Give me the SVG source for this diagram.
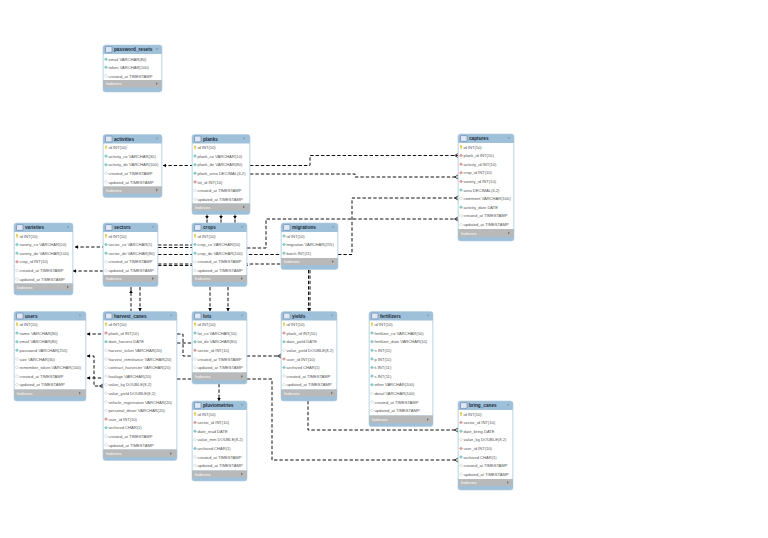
<svg xmlns="http://www.w3.org/2000/svg" xmlns:xlink="http://www.w3.org/1999/xlink" width="768" height="538" viewBox="0 0 768 538">
<style>
text{font-family:"Liberation Sans",Arial,sans-serif;font-size:4.1px;fill:#555}
.t{font-size:4.7px;font-weight:bold;fill:#1d2a38}
.ix{font-size:4.2px;font-weight:bold;fill:#eee}
.o{fill:#9fc0d9;stroke:#b4cde0;stroke-width:.6}
.b{fill:#fff}
.g{fill:#b9b9b9}
.c{fill:none;stroke:#111;stroke-width:1;stroke-dasharray:3.4 2}
.h{fill:#000}
</style>
<defs>
<g id="k"><circle cx="0" cy="-.8" r="1.1" fill="#e8c840"/><rect x="-.4" y="-.3" width=".9" height="2.2" fill="#d9b520"/></g>
<path id="d" d="M-1.7 0L0-1.5L1.7 0L0 1.5Z" fill="#7fd0cf" stroke="#5aa9a8" stroke-width=".3"/>
<path id="w" d="M-1.7 0L0-1.5L1.7 0L0 1.5Z" fill="#fff" stroke="#9bb8c4" stroke-width=".4"/>
<path id="r" d="M-1.7 0L0-1.5L1.7 0L0 1.5Z" fill="#e39aa0" stroke="#b96f77" stroke-width=".3"/>
<g id="i"><rect x="2.500" y="1.600" width="6.500" height="5.800" rx=".6" fill="#dfe7f3" stroke="#5a78b0" stroke-width=".6"/></g>
<path id="a" d="M-1.200-1.200L1.200-1.200L0 .8Z" fill="#7d98ae"/>
<path id="p" d="M-1-1.400L1 0L-1 1.400Z" fill="#777"/>
</defs>

<g id="connectors">
<path class="c" d="M163 165.500H192"/>
<path class="c" d="M250 165.500H310V155.500H458"/>
<path class="c" d="M250 174H355V177H458"/>
<path class="c" d="M207 214V223"/>
<path class="c" d="M221 214V223"/>
<path class="c" d="M235 214V223"/>
<path class="c" d="M247 248H266V219H458"/>
<path class="c" d="M238 254.500H281"/>
<path class="c" d="M338 254.500H352V198H458"/>
<path class="c" d="M158 245H192"/>
<path class="c" d="M158 247.500H192"/>
<path class="c" d="M158 254.500H192"/>
<path class="c" d="M158 264H281"/>
<path class="c" d="M158 265.500H250"/>
<path class="c" d="M75 247H103"/>
<path class="c" d="M73 271H103"/>
<path class="c" d="M131 287V311"/>
<path class="c" d="M140 287V311"/>
<path class="c" d="M210 287V311"/>
<path class="c" d="M228 287V311"/>
<path class="c" d="M308.500 270V311"/>
<path class="c" d="M310 270V311"/>
<path class="c" d="M87 334H103"/>
<path class="c" d="M87 356H94V386H103"/>
<path class="c" d="M87 378H103"/>
<path class="c" d="M177 334H183V356H281"/>
<path class="c" d="M177 343H192"/>
<path class="c" d="M177 379H192"/>
<path class="c" d="M247 379H272V460H458"/>
<path class="c" d="M308 401V430H458"/>
<path class="c" d="M219 384V401"/>
<g class="h">
<path d="M163 165.500l3-1.800v3.600z"/>
<path d="M75 247l3-1.800v3.600z"/>
<path d="M73 271l3-1.800v3.600z"/>
<path d="M87 334l3-1.800v3.600z"/>
<path d="M87 356l3-1.800v3.600z"/>
<path d="M87 378l3-1.800v3.600z"/>
<path d="M238 254.500l3-1.800v3.600z"/>
<path d="M207 219l-1.800-3h3.600z"/>
<path d="M221 219l-1.800-3h3.600z"/>
<path d="M235 219l-1.800-3h3.600z"/>
<path d="M131 290l-1.800 3h3.600z"/>
<path d="M140 311l-1.800-3h3.600z"/>
<path d="M210 311l-1.800-3h3.600z"/>
<path d="M228 311l-1.800-3h3.600z"/>
<path d="M219 401l-1.800-3h3.600z"/>
<path d="M309 311l-1.800-3h3.600z"/>
</g>
<path d="M458 153.500l-3.500 2 3.500 2M458 175l-3.500 2 3.500 2M458 196l-3.500 2 3.500 2M458 217l-3.500 2 3.500 2M458 428l-3.500 2 3.500 2M458 458l-3.500 2 3.500 2M281 354l-3.500 2 3.500 2M103 384l-3.500 2 3.500 2" fill="none" stroke="#111" stroke-width=".8"/>
</g>

<g id="password_resets" transform="translate(103,45)"><rect class="o" width="59" height="47" rx="2.500"/><rect class="b" x=".5" y="9" width="58" height="26"/><rect class="g" x=".5" y="35" width="58" height="7.300"/><use href="#i"/><text class="t" x="11" y="6.300">password_resets</text><use href="#a" x="54" y="4.500"/><use href="#p" x="54" y="38.700"/><text class="ix" x="3" y="40.200">Indexes</text>
<use href="#d" x="3" y="14.300"/><text x="5.500" y="15.900">email VARCHAR(80)</text>
<use href="#d" x="3" y="22.300"/><text x="5.500" y="23.900">token VARCHAR(100)</text>
<use href="#w" x="3" y="31"/><text x="5.500" y="32.600">created_at TIMESTAMP</text></g>

<g id="activities" transform="translate(103,134.500)"><rect class="o" width="59" height="63" rx="2.500"/><rect class="b" x=".5" y="9" width="58" height="43"/><rect class="g" x=".5" y="52" width="58" height="7"/><use href="#i"/><text class="t" x="11" y="6.300">activities</text><use href="#a" x="54" y="4.500"/><use href="#p" x="54" y="55.500"/><text class="ix" x="3" y="57">Indexes</text>
<use href="#k" x="3" y="13"/><text x="5.500" y="14.600">id INT(10)</text>
<use href="#d" x="3" y="21.600"/><text x="5.500" y="23.200">activity_co VARCHAR(30)</text>
<use href="#d" x="3" y="30.200"/><text x="5.500" y="31.800">activity_de VARCHAR(100)</text>
<use href="#w" x="3" y="38.800"/><text x="5.500" y="40.400">created_at TIMESTAMP</text>
<use href="#w" x="3" y="47.400"/><text x="5.500" y="49">updated_at TIMESTAMP</text></g>

<g id="planks" transform="translate(192,134.500)"><rect class="o" width="58" height="80" rx="2.500"/><rect class="b" x=".5" y="9" width="57" height="60"/><rect class="g" x=".5" y="69" width="57" height="7"/><use href="#i"/><text class="t" x="11" y="6.300">planks</text><use href="#a" x="52" y="4.500"/><use href="#p" x="52" y="72.500"/><text class="ix" x="3" y="74">Indexes</text>
<use href="#k" x="3" y="13"/><text x="5.500" y="14.600">id INT(10)</text>
<use href="#d" x="3" y="21.600"/><text x="5.500" y="23.200">plank_co VARCHAR(10)</text>
<use href="#d" x="3" y="30.200"/><text x="5.500" y="31.800">plank_de VARCHAR(80)</text>
<use href="#d" x="3" y="38.800"/><text x="5.500" y="40.400">plank_area DECIMAL(6,2)</text>
<use href="#r" x="3" y="47.400"/><text x="5.500" y="49">lot_id INT(10)</text>
<use href="#w" x="3" y="56"/><text x="5.500" y="57.600">created_at TIMESTAMP</text>
<use href="#w" x="3" y="64.600"/><text x="5.500" y="66.200">updated_at TIMESTAMP</text></g>

<g id="captures" transform="translate(458,134)"><rect class="o" width="56" height="107" rx="2.500"/><rect class="b" x=".5" y="9" width="55" height="86"/><rect class="g" x=".5" y="95" width="55" height="8"/><use href="#i"/><text class="t" x="11" y="6.300">captures</text><use href="#a" x="51" y="4.500"/><use href="#p" x="51" y="99"/><text class="ix" x="3" y="100.500">Indexes</text>
<use href="#k" x="3" y="13"/><text x="5.500" y="14.600">id INT(10)</text>
<use href="#r" x="3" y="21.600"/><text x="5.500" y="23.200">plank_id INT(10)</text>
<use href="#r" x="3" y="30.200"/><text x="5.500" y="31.800">activity_id INT(10)</text>
<use href="#r" x="3" y="38.800"/><text x="5.500" y="40.400">crop_id INT(10)</text>
<use href="#r" x="3" y="47.400"/><text x="5.500" y="49">variety_id INT(10)</text>
<use href="#d" x="3" y="56"/><text x="5.500" y="57.600">area DECIMAL(6,2)</text>
<use href="#w" x="3" y="64.600"/><text x="5.500" y="66.200">comment VARCHAR(100)</text>
<use href="#d" x="3" y="73.200"/><text x="5.500" y="74.800">activity_date DATE</text>
<use href="#w" x="3" y="81.800"/><text x="5.500" y="83.400">created_at TIMESTAMP</text>
<use href="#w" x="3" y="90.400"/><text x="5.500" y="92">updated_at TIMESTAMP</text></g>

<g id="varieties" transform="translate(14,223)"><rect class="o" width="59" height="72" rx="2.500"/><rect class="b" x=".5" y="9" width="58" height="51.500"/><rect class="g" x=".5" y="60.500" width="58" height="7"/><use href="#i"/><text class="t" x="11" y="6.300">varieties</text><use href="#a" x="54" y="4.500"/><use href="#p" x="54" y="64"/><text class="ix" x="3" y="65.500">Indexes</text>
<use href="#k" x="3" y="13"/><text x="5.500" y="14.600">id INT(10)</text>
<use href="#d" x="3" y="21.600"/><text x="5.500" y="23.200">variety_co VARCHAR(50)</text>
<use href="#d" x="3" y="30.200"/><text x="5.500" y="31.800">variety_de VARCHAR(100)</text>
<use href="#r" x="3" y="38.800"/><text x="5.500" y="40.400">crop_id INT(10)</text>
<use href="#w" x="3" y="47.400"/><text x="5.500" y="49">created_at TIMESTAMP</text>
<use href="#w" x="3" y="56"/><text x="5.500" y="57.600">updated_at TIMESTAMP</text></g>

<g id="sectors" transform="translate(103,223)"><rect class="o" width="55" height="63.500" rx="2.500"/><rect class="b" x=".5" y="9" width="54" height="43"/><rect class="g" x=".5" y="52" width="54" height="7"/><use href="#i"/><text class="t" x="11" y="6.300">sectors</text><use href="#a" x="50" y="4.500"/><use href="#p" x="50" y="55.500"/><text class="ix" x="3" y="57">Indexes</text>
<use href="#k" x="3" y="13"/><text x="5.500" y="14.600">id INT(10)</text>
<use href="#d" x="3" y="21.600"/><text x="5.500" y="23.200">sector_co VARCHAR(5)</text>
<use href="#d" x="3" y="30.200"/><text x="5.500" y="31.800">sector_de VARCHAR(80)</text>
<use href="#w" x="3" y="38.800"/><text x="5.500" y="40.400">created_at TIMESTAMP</text>
<use href="#w" x="3" y="47.400"/><text x="5.500" y="49">updated_at TIMESTAMP</text></g>

<g id="crops" transform="translate(192,223)"><rect class="o" width="55" height="63.500" rx="2.500"/><rect class="b" x=".5" y="9" width="54" height="43"/><rect class="g" x=".5" y="52" width="54" height="7"/><use href="#i"/><text class="t" x="11" y="6.300">crops</text><use href="#a" x="50" y="4.500"/><use href="#p" x="50" y="55.500"/><text class="ix" x="3" y="57">Indexes</text>
<use href="#k" x="3" y="13"/><text x="5.500" y="14.600">id INT(10)</text>
<use href="#d" x="3" y="21.600"/><text x="5.500" y="23.200">crop_co VARCHAR(50)</text>
<use href="#d" x="3" y="30.200"/><text x="5.500" y="31.800">crop_de VARCHAR(100)</text>
<use href="#w" x="3" y="38.800"/><text x="5.500" y="40.400">created_at TIMESTAMP</text>
<use href="#w" x="3" y="47.400"/><text x="5.500" y="49">updated_at TIMESTAMP</text></g>

<g id="migrations" transform="translate(281,223)"><rect class="o" width="57" height="46.500" rx="2.500"/><rect class="b" x=".5" y="9" width="56" height="26"/><rect class="g" x=".5" y="35" width="56" height="7"/><use href="#i"/><text class="t" x="11" y="6.300">migrations</text><use href="#a" x="52" y="4.500"/><use href="#p" x="52" y="38.500"/><text class="ix" x="3" y="40">Indexes</text>
<use href="#d" x="3" y="13"/><text x="5.500" y="14.600">id INT(10)</text>
<use href="#d" x="3" y="21.600"/><text x="5.500" y="23.200">migration VARCHAR(255)</text>
<use href="#d" x="3" y="30.200"/><text x="5.500" y="31.800">batch INT(11)</text></g>

<g id="users" transform="translate(14,311.500)"><rect class="o" width="72" height="89.500" rx="2.500"/><rect class="b" x=".5" y="9" width="71" height="69"/><rect class="g" x=".5" y="78" width="71" height="7"/><use href="#i"/><text class="t" x="11" y="6.300">users</text><use href="#a" x="66" y="4.500"/><use href="#p" x="66" y="81.500"/><text class="ix" x="3" y="83">Indexes</text>
<use href="#k" x="3" y="13"/><text x="5.500" y="14.600">id INT(10)</text>
<use href="#d" x="3" y="21.600"/><text x="5.500" y="23.200">name VARCHAR(80)</text>
<use href="#d" x="3" y="30.200"/><text x="5.500" y="31.800">email VARCHAR(80)</text>
<use href="#d" x="3" y="38.800"/><text x="5.500" y="40.400">password VARCHAR(255)</text>
<use href="#w" x="3" y="47.400"/><text x="5.500" y="49">size VARCHAR(30)</text>
<use href="#w" x="3" y="56"/><text x="5.500" y="57.600">remember_token VARCHAR(100)</text>
<use href="#w" x="3" y="64.600"/><text x="5.500" y="66.200">created_at TIMESTAMP</text>
<use href="#w" x="3" y="73.200"/><text x="5.500" y="74.800">updated_at TIMESTAMP</text></g>

<g id="harvest_canes" transform="translate(103,311.500)"><rect class="o" width="74" height="149" rx="2.500"/><rect class="b" x=".5" y="9" width="73" height="129"/><rect class="g" x=".5" y="138" width="73" height="7.500"/><use href="#i"/><text class="t" x="11" y="6.300">harvest_canes</text><use href="#a" x="68" y="4.500"/><use href="#p" x="68" y="142"/><text class="ix" x="3" y="143.500">Indexes</text>
<use href="#k" x="3" y="13"/><text x="5.500" y="14.600">id INT(10)</text>
<use href="#r" x="3" y="21.600"/><text x="5.500" y="23.200">plank_id INT(10)</text>
<use href="#d" x="3" y="30.200"/><text x="5.500" y="31.800">date_harvest DATE</text>
<use href="#w" x="3" y="38.800"/><text x="5.500" y="40.400">harvest_ticket VARCHAR(20)</text>
<use href="#w" x="3" y="47.400"/><text x="5.500" y="49">harvest_remittance VARCHAR(20)</text>
<use href="#w" x="3" y="56"/><text x="5.500" y="57.600">contract_harvester VARCHAR(20)</text>
<use href="#w" x="3" y="64.600"/><text x="5.500" y="66.200">haulage VARCHAR(20)</text>
<use href="#w" x="3" y="73.200"/><text x="5.500" y="74.800">value_kg DOUBLE(8,2)</text>
<use href="#w" x="3" y="81.800"/><text x="5.500" y="83.400">value_yield DOUBLE(8,2)</text>
<use href="#w" x="3" y="90.400"/><text x="5.500" y="92">vehicle_registration VARCHAR(20)</text>
<use href="#w" x="3" y="99"/><text x="5.500" y="100.600">personal_driver VARCHAR(20)</text>
<use href="#r" x="3" y="107.600"/><text x="5.500" y="109.200">user_id INT(10)</text>
<use href="#d" x="3" y="116.200"/><text x="5.500" y="117.800">archived CHAR(1)</text>
<use href="#w" x="3" y="124.800"/><text x="5.500" y="126.400">created_at TIMESTAMP</text>
<use href="#w" x="3" y="133.400"/><text x="5.500" y="135">updated_at TIMESTAMP</text></g>

<g id="lots" transform="translate(192,311.500)"><rect class="o" width="55" height="72.500" rx="2.500"/><rect class="b" x=".5" y="9" width="54" height="52"/><rect class="g" x=".5" y="61" width="54" height="7.500"/><use href="#i"/><text class="t" x="11" y="6.300">lots</text><use href="#a" x="50" y="4.500"/><use href="#p" x="50" y="65"/><text class="ix" x="3" y="66.500">Indexes</text>
<use href="#k" x="3" y="13"/><text x="5.500" y="14.600">id INT(10)</text>
<use href="#d" x="3" y="21.600"/><text x="5.500" y="23.200">lot_co VARCHAR(10)</text>
<use href="#d" x="3" y="30.200"/><text x="5.500" y="31.800">lot_de VARCHAR(80)</text>
<use href="#r" x="3" y="38.800"/><text x="5.500" y="40.400">sector_id INT(10)</text>
<use href="#w" x="3" y="47.400"/><text x="5.500" y="49">created_at TIMESTAMP</text>
<use href="#w" x="3" y="56"/><text x="5.500" y="57.600">updated_at TIMESTAMP</text></g>

<g id="yields" transform="translate(281,311.500)"><rect class="o" width="56" height="89.500" rx="2.500"/><rect class="b" x=".5" y="9" width="55" height="69"/><rect class="g" x=".5" y="78" width="55" height="7"/><use href="#i"/><text class="t" x="11" y="6.300">yields</text><use href="#a" x="51" y="4.500"/><use href="#p" x="51" y="81.500"/><text class="ix" x="3" y="83">Indexes</text>
<use href="#k" x="3" y="13"/><text x="5.500" y="14.600">id INT(10)</text>
<use href="#r" x="3" y="21.600"/><text x="5.500" y="23.200">plank_id INT(10)</text>
<use href="#d" x="3" y="30.200"/><text x="5.500" y="31.800">date_yield DATE</text>
<use href="#w" x="3" y="38.800"/><text x="5.500" y="40.400">value_yield DOUBLE(8,2)</text>
<use href="#r" x="3" y="47.400"/><text x="5.500" y="49">user_id INT(10)</text>
<use href="#d" x="3" y="56"/><text x="5.500" y="57.600">archived CHAR(1)</text>
<use href="#w" x="3" y="64.600"/><text x="5.500" y="66.200">created_at TIMESTAMP</text>
<use href="#w" x="3" y="73.200"/><text x="5.500" y="74.800">updated_at TIMESTAMP</text></g>

<g id="fertilizers" transform="translate(369,311.500)"><rect class="o" width="64" height="115" rx="2.500"/><rect class="b" x=".5" y="9" width="63" height="95"/><rect class="g" x=".5" y="104" width="63" height="7.500"/><use href="#i"/><text class="t" x="11" y="6.300">fertilizers</text><use href="#a" x="59" y="4.500"/><use href="#p" x="59" y="108"/><text class="ix" x="3" y="109.500">Indexes</text>
<use href="#k" x="3" y="13"/><text x="5.500" y="14.600">id INT(10)</text>
<use href="#d" x="3" y="21.600"/><text x="5.500" y="23.200">fertilizer_co VARCHAR(50)</text>
<use href="#d" x="3" y="30.200"/><text x="5.500" y="31.800">fertilizer_date VARCHAR(10)</text>
<use href="#d" x="3" y="38.800"/><text x="5.500" y="40.400">n INT(11)</text>
<use href="#d" x="3" y="47.400"/><text x="5.500" y="49">p INT(11)</text>
<use href="#d" x="3" y="56"/><text x="5.500" y="57.600">k INT(11)</text>
<use href="#d" x="3" y="64.600"/><text x="5.500" y="66.200">s INT(11)</text>
<use href="#d" x="3" y="73.200"/><text x="5.500" y="74.800">other VARCHAR(100)</text>
<use href="#w" x="3" y="81.800"/><text x="5.500" y="83.400">detail VARCHAR(100)</text>
<use href="#w" x="3" y="90.400"/><text x="5.500" y="92">created_at TIMESTAMP</text>
<use href="#w" x="3" y="99"/><text x="5.500" y="100.600">updated_at TIMESTAMP</text></g>

<g id="pluviometries" transform="translate(192,401)"><rect class="o" width="55" height="80" rx="2.500"/><rect class="b" x=".5" y="9" width="54" height="60.500"/><rect class="g" x=".5" y="69.500" width="54" height="7"/><use href="#i"/><text class="t" x="11" y="6.300">pluviometries</text><use href="#a" x="50" y="4.500"/><use href="#p" x="50" y="73"/><text class="ix" x="3" y="74.500">Indexes</text>
<use href="#k" x="3" y="13"/><text x="5.500" y="14.600">id INT(10)</text>
<use href="#r" x="3" y="21.600"/><text x="5.500" y="23.200">sector_id INT(10)</text>
<use href="#d" x="3" y="30.200"/><text x="5.500" y="31.800">date_read DATE</text>
<use href="#w" x="3" y="38.800"/><text x="5.500" y="40.400">value_mm DOUBLE(8,2)</text>
<use href="#d" x="3" y="47.400"/><text x="5.500" y="49">archived CHAR(1)</text>
<use href="#w" x="3" y="56"/><text x="5.500" y="57.600">created_at TIMESTAMP</text>
<use href="#w" x="3" y="64.600"/><text x="5.500" y="66.200">updated_at TIMESTAMP</text></g>

<g id="bring_canes" transform="translate(458,401)"><rect class="o" width="55" height="89" rx="2.500"/><rect class="b" x=".5" y="9" width="54" height="69"/><rect class="g" x=".5" y="78" width="54" height="7"/><use href="#i"/><text class="t" x="11" y="6.300">bring_canes</text><use href="#a" x="50" y="4.500"/><use href="#p" x="50" y="81.500"/><text class="ix" x="3" y="83">Indexes</text>
<use href="#k" x="3" y="13"/><text x="5.500" y="14.600">id INT(10)</text>
<use href="#r" x="3" y="21.600"/><text x="5.500" y="23.200">sector_id INT(10)</text>
<use href="#d" x="3" y="30.200"/><text x="5.500" y="31.800">date_bring DATE</text>
<use href="#w" x="3" y="38.800"/><text x="5.500" y="40.400">value_kg DOUBLE(8,2)</text>
<use href="#r" x="3" y="47.400"/><text x="5.500" y="49">user_id INT(10)</text>
<use href="#d" x="3" y="56"/><text x="5.500" y="57.600">archived CHAR(1)</text>
<use href="#w" x="3" y="64.600"/><text x="5.500" y="66.200">created_at TIMESTAMP</text>
<use href="#w" x="3" y="73.200"/><text x="5.500" y="74.800">updated_at TIMESTAMP</text></g>
</svg>
